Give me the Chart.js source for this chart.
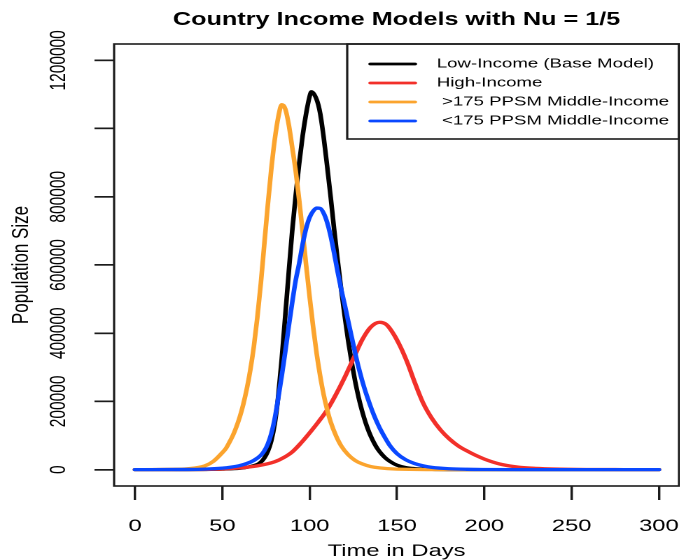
<!DOCTYPE html>
<html>
<head>
<meta charset="utf-8">
<title>Country Income Models with Nu = 1/5</title>
<script src="https://cdn.jsdelivr.net/npm/chart.js@4.4.1/dist/chart.umd.min.js"></script>
<style>
  html, body { margin: 0; padding: 0; background: #fff; overflow: hidden; width: 680px; height: 560px; }
  /* the plot is laid out narrow and widened horizontally */
  #wrap { width: 486px; height: 560px; transform: scaleX(1.4); transform-origin: 0 0; }
  canvas { display: block; }
</style>
</head>
<body>
<div id="wrap"><canvas id="c" width="486" height="560"></canvas></div>
<script>
// ---- series: days and population size ----
const lowDays = [0, 30, 40, 50, 60, 65, 70, 72, 74, 76, 78, 80, 82, 84, 86, 88, 90, 92, 94, 96, 98,
  100, 101, 104, 106, 108, 110, 112, 114, 116, 118, 120, 122, 124, 126, 128, 130, 132, 134, 136, 138,
  140, 143, 146, 150, 155, 160, 170, 180, 200, 300];
const lowVals = [0, 150, 500, 1500, 4000, 8000, 15000, 22000, 34000, 53000, 84000,
  135000, 215000, 325000, 450000, 578000, 700000, 805000, 898000, 980000, 1045000,
  1095000, 1108000, 1085000, 1045000, 975000, 890000, 800000, 705000, 615000, 530000,
  452000, 380000, 316000, 260000, 212000, 172000, 138000, 110000, 87000, 68000,
  53000, 36000, 24000, 13000, 6000, 3000, 700, 150, 0, 0];

const highDays = [0, 30, 50, 60, 70, 80, 85, 90, 95, 100, 105, 110, 115, 120, 125, 130, 135, 140, 144, 148,
  152, 156, 160, 165, 170, 175, 180, 185, 190, 195, 200, 205, 210, 220, 230, 240, 260, 280, 300];
const highVals = [0, 300, 2000, 5000, 11000, 23000, 35000, 52000, 78000, 108000,
  140000, 175000, 220000, 270000, 325000, 380000, 418000, 432000, 425000, 398000,
  360000, 313000, 258000, 195000, 150000, 116000, 90000, 70000, 55000, 42000,
  31000, 22000, 15000, 7000, 3500, 1700, 400, 100, 0];

const midHighDays = [0, 20, 30, 40, 45, 50, 52, 54, 56, 58, 60, 62, 64, 66, 68, 70, 72, 74, 76, 78,
  80, 82, 84, 86, 88, 90, 92, 94, 96, 98, 100, 102, 104, 106, 108, 110, 112, 115, 118, 122,
  126, 130, 135, 140, 150, 170, 200, 300];
const midHighVals = [0, 500, 2500, 11000, 25000, 50000, 62000, 80000, 100000, 125000,
  155000, 192000, 237000, 292000, 360000, 445000, 545000, 660000, 775000, 880000,
  968000, 1033000, 1070000, 1058000, 1012000, 945000, 875000, 790000, 695000, 598000,
  505000, 418000, 340000, 275000, 220000, 176000, 140000, 100000, 70000, 44000,
  27000, 17000, 9000, 5000, 1500, 200, 0, 0];

const midLowDays = [0, 30, 40, 50, 55, 60, 64, 68, 72, 74, 76, 78, 80, 82, 84, 86, 88, 90, 92, 94,
  96, 98, 100, 102, 104, 106, 108, 110, 112, 114, 116, 118, 120, 122, 124, 126, 128, 130, 132, 134,
  136, 138, 140, 143, 146, 150, 155, 160, 165, 170, 180, 190, 200, 220, 300];
const midLowVals = [0, 500, 1500, 4500, 7500, 12000, 18000, 27000, 42000, 55000,
  75000, 105000, 150000, 210000, 275000, 345000, 420000, 490000, 555000, 605000,
  662000, 708000, 740000, 758000, 767000, 766000, 752000, 725000, 685000, 635000,
  580000, 530000, 485000, 437000, 390000, 343000, 300000, 262000, 228000, 198000,
  170000, 145000, 123000, 95000, 70000, 47000, 29000, 18000, 11000, 6500,
  2500, 900, 300, 0, 0];

const seriesNames = ['Low-Income (Base Model)', 'High-Income', ' >175 PPSM Middle-Income', ' <175 PPSM Middle-Income'];
const seriesColors = ['#000000', '#F2302A', '#FBA42E', '#0A48FF'];

// ---- axis ticks ----
const xTicks = [0, 50, 100, 150, 200, 250, 300];
const yTicks = [0, 200000, 400000, 600000, 800000, 1000000, 1200000];
const yTickLabels = ['0', '200000', '400000', '600000', '800000', '', '1200000'];

const FONT = '"Liberation Sans", Arial, Helvetica, sans-serif';
const INK = '#1c1c1c';

const toPoints = (days, vals) => days.map((d, i) => ({ x: d, y: vals[i] }));

// box, rotated y labels and the legend
const framePlugin = {
  id: 'frame',
  afterDraw(chart) {
    const { ctx, chartArea: a, scales } = chart;
    const y = scales.y;
    ctx.save();

    ctx.strokeStyle = INK;
    ctx.lineWidth = 1.6;
    ctx.strokeRect(a.left, a.top, a.right - a.left, a.bottom - a.top);

    ctx.fillStyle = '#000';
    ctx.font = '15.5px ' + FONT;
    ctx.textAlign = 'center';
    ctx.textBaseline = 'middle';
    yTicks.forEach((v, i) => {
      const lab = yTickLabels[i];
      if (!lab) return;
      ctx.save();
      ctx.translate(42, y.getPixelForValue(v));
      ctx.rotate(-Math.PI / 2);
      ctx.fillText(lab, 0, 0);
      ctx.restore();
    });

    // legend in the top right corner of the plot box
    const lx = 248, ly = a.top, lw = a.right - lx, lh = 95;
    ctx.lineWidth = 1.6;
    ctx.strokeStyle = INK;
    ctx.strokeRect(lx, ly, lw, lh);
    ctx.font = '13.3px ' + FONT;
    ctx.textAlign = 'left';
    seriesNames.forEach((name, i) => {
      const ry = ly + 20 + i * 19;
      ctx.strokeStyle = seriesColors[i];
      ctx.lineWidth = 2.8;
      ctx.lineCap = 'round';
      ctx.beginPath();
      ctx.moveTo(264.5, ry);
      ctx.lineTo(296.5, ry);
      ctx.stroke();
      ctx.fillStyle = '#000';
      ctx.fillText(name, 312, ry);
    });
    ctx.restore();
  }
};

const lineStyle = (i, order) => ({
  label: seriesNames[i],
  borderColor: seriesColors[i],
  backgroundColor: seriesColors[i],
  borderWidth: 3.3,
  pointRadius: 0,
  fill: false,
  cubicInterpolationMode: 'monotone',
  borderCapStyle: 'round',
  borderJoinStyle: 'round',
  order: order
});

new Chart(document.getElementById('c'), {
  type: 'line',
  data: {
    datasets: [
      Object.assign({ data: toPoints(lowDays, lowVals) }, lineStyle(0, 4)),
      Object.assign({ data: toPoints(highDays, highVals) }, lineStyle(1, 3)),
      Object.assign({ data: toPoints(midHighDays, midHighVals) }, lineStyle(2, 2)),
      Object.assign({ data: toPoints(midLowDays, midLowVals) }, lineStyle(3, 1))
    ]
  },
  options: {
    responsive: false,
    animation: false,
    devicePixelRatio: 2,
    events: [],
    layout: { padding: { left: 0, right: 1, top: 0, bottom: 0 } },
    plugins: {
      legend: { display: false },
      tooltip: { enabled: false },
      title: {
        display: true,
        text: 'Country Income Models with Nu = 1/5',
        fullSize: false,
        color: '#000',
        font: { family: FONT, size: 18, weight: 'bold', lineHeight: 1 },
        padding: { top: 11, bottom: 15 }
      }
    },
    scales: {
      x: {
        type: 'linear',
        min: -12,
        max: 311.5,
        afterBuildTicks: s => { s.ticks = xTicks.map(v => ({ value: v })); },
        afterFit: s => { s.height = 74; s.paddingLeft = 0; s.paddingRight = 0; },
        grid: { display: true, drawOnChartArea: false, drawTicks: true, tickLength: 14, color: INK, lineWidth: 1.7 },
        border: { display: false },
        ticks: {
          color: '#000',
          font: { family: FONT, size: 17, lineHeight: 1 },
          padding: 18,
          maxRotation: 0,
          autoSkip: false
        },
        title: {
          display: true,
          text: 'Time in Days',
          color: '#000',
          font: { family: FONT, size: 17, lineHeight: 1 },
          padding: { top: 0, bottom: 0 }
        }
      },
      y: {
        type: 'linear',
        min: -48000,
        max: 1248000,
        afterBuildTicks: s => { s.ticks = yTicks.map(v => ({ value: v })); },
        afterFit: s => { s.width = 81.5; s.paddingTop = 0; s.paddingBottom = 0; },
        grid: { display: true, drawOnChartArea: false, drawTicks: true, tickLength: 14, color: INK, lineWidth: 1.7 },
        border: { display: false },
        ticks: { display: false },
        title: {
          display: true,
          text: 'Population Size',
          color: '#000',
          font: { family: FONT, size: 17, lineHeight: 1 },
          padding: { top: 7, bottom: 0 }
        }
      }
    }
  },
  plugins: [framePlugin]
});
</script>
</body>
</html>
